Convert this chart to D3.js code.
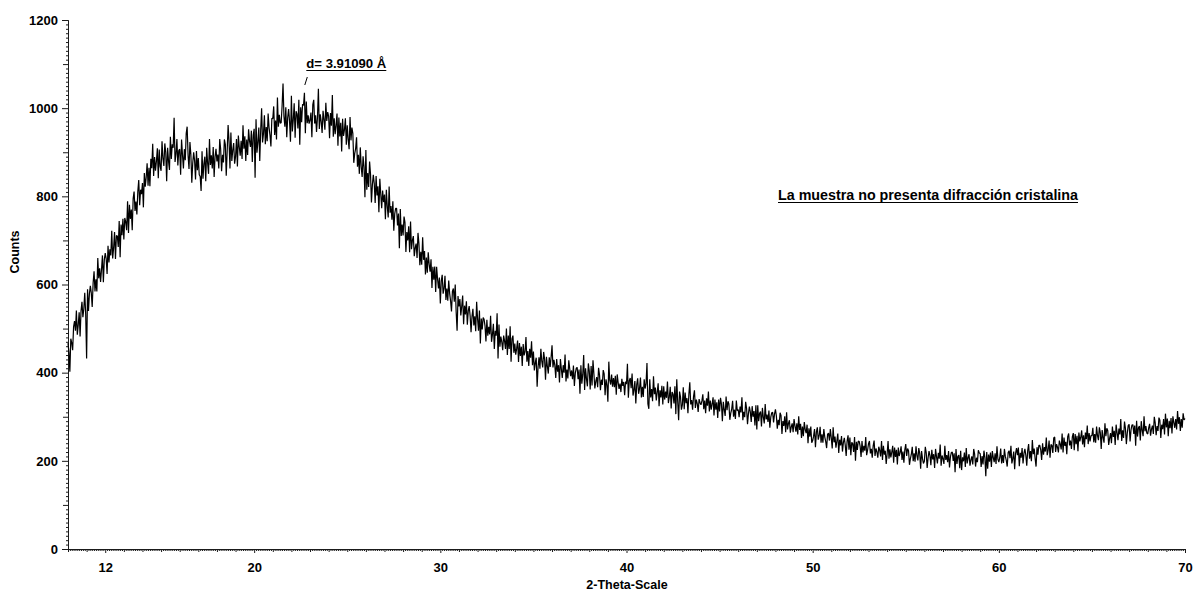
<!DOCTYPE html>
<html>
<head>
<meta charset="utf-8">
<script src="https://cdn.jsdelivr.net/npm/d3@7"></script>
<style>
  html, body { margin: 0; padding: 0; background: #ffffff; }
  svg { display: block; }
  text { font-family: "Liberation Sans", Arial, sans-serif; }
</style>
</head>
<body>
<svg id="chart" width="1193" height="592"></svg>
<script>
// Step scan: 2-theta start and step (degrees)
const scanStart = 10;
const scanStep = 0.05;

// Intensity (counts) per step, one row per degree, 10.00° … 70.00°
const counts = [
  467, 446, 402, 477, 468, 451, 504, 517, 495, 541, 486, 508, 537, 482, 540, 561, 526, 545, 581, 533,
  432, 589, 540, 579, 597, 581, 549, 604, 630, 584, 612, 584, 660, 614, 637, 606, 634, 666, 605, 656,
  671, 659, 624, 688, 650, 680, 666, 722, 659, 683, 719, 658, 711, 710, 685, 744, 662, 736, 712, 749,
  702, 751, 742, 723, 789, 717, 781, 749, 770, 723, 795, 811, 767, 788, 759, 811, 837, 780, 815, 805,
  830, 775, 853, 822, 843, 875, 824, 865, 823, 885, 864, 919, 846, 889, 858, 880, 909, 841, 906, 868,
  858, 925, 886, 869, 920, 900, 834, 910, 880, 860, 935, 885, 918, 910, 978, 878, 896, 930, 870, 904,
  907, 849, 929, 894, 863, 907, 882, 943, 958, 893, 862, 923, 895, 831, 875, 900, 881, 838, 903, 859,
  887, 849, 845, 812, 902, 840, 874, 890, 834, 910, 875, 851, 930, 871, 893, 863, 912, 844, 890, 908,
  879, 895, 863, 930, 907, 857, 894, 877, 929, 918, 847, 902, 962, 925, 863, 945, 880, 905, 921, 874,
  890, 930, 868, 938, 912, 892, 926, 885, 961, 908, 936, 880, 929, 894, 952, 926, 912, 949, 878, 939,
  953, 842, 975, 899, 923, 956, 880, 949, 1000, 922, 942, 984, 918, 957, 925, 988, 956, 939, 913, 977,
  976, 1004, 939, 972, 929, 1024, 958, 985, 966, 967, 1005, 1056, 981, 958, 1002, 934, 978, 998, 971, 924,
  1028, 947, 973, 1011, 933, 993, 987, 954, 1019, 917, 1002, 968, 1009, 1006, 1035, 943, 1015, 966, 984, 965,
  973, 990, 934, 1008, 1019, 965, 984, 946, 979, 1044, 953, 986, 970, 944, 994, 974, 951, 1012, 971, 991,
  982, 932, 989, 960, 1030, 935, 977, 941, 961, 988, 915, 979, 936, 967, 902, 976, 937, 951, 977, 917,
  961, 929, 907, 980, 927, 956, 943, 876, 897, 908, 934, 867, 894, 851, 911, 867, 844, 891, 867, 798,
  905, 815, 853, 821, 879, 850, 786, 826, 849, 829, 785, 846, 802, 823, 764, 840, 805, 773, 813, 787,
  804, 748, 815, 777, 752, 822, 763, 778, 747, 789, 722, 760, 773, 773, 734, 761, 682, 771, 710, 736,
  711, 754, 741, 674, 719, 700, 732, 673, 743, 680, 700, 710, 664, 683, 693, 660, 717, 693, 644, 674,
  645, 707, 656, 676, 623, 661, 627, 673, 646, 629, 657, 592, 640, 611, 641, 583, 640, 613, 591, 616,
  557, 608, 622, 579, 591, 620, 565, 591, 563, 609, 580, 563, 539, 585, 591, 561, 600, 538, 495, 574,
  550, 567, 530, 551, 575, 510, 552, 532, 562, 509, 540, 551, 529, 492, 527, 545, 507, 528, 494, 561,
  522, 495, 541, 466, 523, 498, 525, 521, 506, 471, 520, 484, 504, 487, 529, 470, 487, 511, 454, 495,
  484, 535, 432, 509, 459, 482, 470, 451, 484, 472, 454, 500, 440, 484, 454, 505, 425, 477, 484, 445,
  466, 441, 455, 473, 424, 467, 438, 459, 415, 465, 439, 448, 481, 425, 449, 415, 454, 434, 471, 417,
  448, 405, 422, 434, 368, 413, 435, 409, 454, 426, 412, 447, 431, 384, 436, 414, 398, 435, 413, 435,
  462, 412, 429, 417, 388, 431, 402, 417, 378, 431, 409, 388, 417, 400, 441, 380, 407, 387, 428, 409,
  392, 405, 385, 416, 370, 399, 410, 412, 385, 407, 352, 417, 375, 396, 440, 361, 410, 386, 369, 421,
  404, 362, 415, 371, 428, 397, 364, 380, 390, 367, 411, 395, 360, 384, 372, 406, 397, 349, 385, 372,
  334, 425, 383, 373, 396, 368, 388, 367, 393, 350, 396, 378, 363, 375, 356, 386, 370, 379, 349, 380,
  374, 420, 343, 382, 388, 365, 398, 348, 361, 381, 330, 373, 387, 352, 364, 389, 344, 368, 345, 385,
  364, 375, 422, 329, 318, 385, 344, 363, 335, 392, 351, 366, 337, 356, 376, 324, 360, 344, 370, 328,
  369, 339, 357, 343, 380, 331, 345, 368, 319, 356, 351, 330, 369, 306, 385, 335, 292, 357, 345, 316,
  327, 367, 317, 355, 331, 342, 308, 351, 378, 328, 338, 316, 346, 360, 320, 339, 330, 311, 340, 332,
  327, 336, 351, 317, 337, 308, 342, 325, 357, 312, 337, 316, 329, 344, 303, 339, 316, 333, 297, 339,
  312, 343, 329, 290, 334, 316, 302, 346, 315, 335, 329, 293, 308, 317, 336, 300, 316, 295, 337, 314,
  316, 299, 323, 310, 344, 292, 311, 299, 334, 319, 283, 307, 323, 311, 288, 324, 300, 313, 280, 326,
  271, 326, 290, 308, 312, 278, 320, 299, 285, 329, 294, 305, 288, 314, 275, 299, 309, 310, 287, 306,
  317, 302, 273, 293, 281, 309, 303, 261, 290, 279, 301, 265, 310, 271, 285, 292, 264, 277, 285, 265,
  295, 279, 266, 285, 260, 301, 270, 284, 252, 278, 256, 288, 271, 263, 282, 240, 274, 255, 278, 241,
  246, 256, 272, 231, 265, 276, 248, 257, 277, 241, 260, 241, 272, 254, 244, 229, 260, 263, 246, 272,
  252, 228, 276, 242, 255, 230, 245, 262, 218, 248, 235, 256, 221, 242, 252, 236, 211, 245, 258, 225,
  253, 213, 242, 239, 220, 254, 200, 243, 225, 245, 244, 233, 209, 245, 219, 234, 223, 254, 213, 224,
  239, 245, 217, 227, 207, 234, 246, 211, 228, 220, 207, 232, 224, 210, 245, 202, 234, 214, 223, 193,
  216, 245, 205, 226, 208, 220, 234, 196, 230, 209, 225, 192, 230, 211, 219, 233, 202, 221, 196, 225,
  238, 211, 228, 223, 191, 205, 215, 232, 199, 217, 198, 233, 212, 201, 229, 217, 182, 222, 205, 194,
  199, 232, 218, 184, 207, 222, 212, 190, 225, 203, 215, 184, 227, 210, 194, 218, 205, 237, 189, 212,
  205, 193, 234, 202, 213, 197, 222, 185, 209, 219, 220, 200, 217, 174, 227, 193, 210, 213, 183, 223,
  179, 208, 199, 219, 186, 229, 194, 207, 215, 189, 202, 210, 192, 227, 215, 187, 207, 197, 224, 218,
  216, 186, 211, 192, 223, 208, 165, 220, 182, 214, 198, 219, 186, 222, 208, 197, 217, 193, 233, 204,
  197, 207, 228, 194, 213, 195, 227, 210, 201, 187, 219, 223, 206, 234, 194, 205, 221, 181, 217, 229,
  213, 230, 188, 218, 207, 229, 194, 217, 227, 213, 189, 223, 238, 205, 222, 199, 247, 215, 228, 205,
  187, 231, 214, 235, 235, 225, 202, 240, 214, 231, 221, 253, 213, 225, 246, 207, 237, 235, 218, 252,
  254, 220, 238, 231, 219, 246, 238, 226, 262, 219, 253, 234, 243, 215, 255, 262, 235, 246, 227, 255,
  263, 224, 261, 238, 257, 222, 264, 244, 253, 269, 237, 258, 231, 264, 249, 280, 238, 263, 244, 257,
  257, 275, 242, 261, 241, 278, 257, 247, 276, 264, 227, 270, 253, 241, 285, 256, 274, 269, 236, 251,
  263, 240, 278, 254, 268, 236, 282, 264, 247, 273, 260, 295, 245, 269, 252, 289, 274, 238, 263, 280,
  283, 244, 270, 281, 282, 261, 280, 234, 291, 255, 275, 279, 246, 290, 269, 256, 301, 267, 279, 263,
  261, 275, 284, 257, 272, 280, 261, 300, 286, 258, 279, 268, 298, 292, 252, 282, 272, 295, 260, 307,
  276, 296, 256, 291, 274, 297, 262, 301, 287, 275, 295, 271, 313, 284, 299, 268, 295, 275, 308, 293,
  296
];

// Axis ticks
const xTickLabels = [12, 20, 30, 40, 50, 60, 70];
const yTickLabels = [0, 200, 400, 600, 800, 1000, 1200];

// Peak annotation and remark
const peakAngle = 22.72;
const peakLabel = "d= 3.91090 Å";
const remark = "La muestra no presenta difracción cristalina";

const svg = d3.select("#chart");
const x = d3.scaleLinear().domain([10, 70]).range([68, 1185]);
const y = d3.scaleLinear().domain([0, 1200]).range([549, 20]);

const data = counts.map((c, i) => ({ t: scanStart + i * scanStep, c }));

// Minor ticks
const yMinor = d3.range(0, 1201, 10).filter(v => v % 100 !== 0);
const yMid = d3.range(100, 1201, 200);
const xMinor = d3.range(100, 701, 1).map(v => v / 10).filter(v => Math.abs(v - Math.round(v)) > 1e-6);
const xMid = d3.range(10, 71, 1).filter(v => !xTickLabels.includes(v));

const axisColor = "#1a1a1a";

function styleAxis(g) {
  g.select(".domain").attr("stroke", axisColor).attr("stroke-width", 1);
  g.selectAll(".tick line").attr("stroke", axisColor).attr("stroke-width", 1);
  g.selectAll(".tick text")
    .attr("fill", "#000")
    .attr("font-size", 13)
    .attr("font-weight", "bold")
    .attr("font-family", "'Liberation Sans', Arial, sans-serif");
}

// Y axis
svg.append("g").attr("transform", "translate(68,0)")
  .call(d3.axisLeft(y).tickValues(yMinor).tickSize(2).tickSizeOuter(0).tickFormat(""))
  .call(styleAxis);
svg.append("g").attr("transform", "translate(68,0)")
  .call(d3.axisLeft(y).tickValues(yMid).tickSize(5).tickSizeOuter(0).tickFormat(""))
  .call(styleAxis);
svg.append("g").attr("transform", "translate(68,0)")
  .call(d3.axisLeft(y).tickValues(yTickLabels).tickSize(6).tickPadding(4).tickSizeOuter(0).tickFormat(d3.format("d")))
  .call(styleAxis);

// X axis
svg.append("g").attr("transform", "translate(0,549)")
  .call(d3.axisBottom(x).tickValues(xMinor).tickSize(2).tickSizeOuter(0).tickFormat(""))
  .call(styleAxis);
svg.append("g").attr("transform", "translate(0,549)")
  .call(d3.axisBottom(x).tickValues(xMid).tickSize(3).tickSizeOuter(0).tickFormat(""))
  .call(styleAxis);
svg.append("g").attr("transform", "translate(0,549)")
  .call(d3.axisBottom(x).tickValues(xTickLabels).tickSize(4).tickPadding(10).tickSizeOuter(0).tickFormat(d3.format("d")))
  .call(styleAxis);

// Diffraction trace
const line = d3.line().x(d => x(d.t)).y(d => y(d.c));
svg.append("path")
  .datum(data)
  .attr("fill", "none")
  .attr("stroke", "#000")
  .attr("stroke-width", 1.2)
  .attr("stroke-linejoin", "bevel")
  .attr("d", line);

// Axis titles
svg.append("text")
  .attr("transform", "translate(19,252) rotate(-90)")
  .attr("text-anchor", "middle")
  .attr("font-size", 12.5).attr("font-weight", "bold")
  .text("Counts");
svg.append("text")
  .attr("x", 627).attr("y", 589)
  .attr("text-anchor", "middle")
  .attr("font-size", 12.5).attr("font-weight", "bold")
  .text("2-Theta-Scale");

// Peak d-spacing label with leader
const px = x(peakAngle);
svg.append("line")
  .attr("x1", px).attr("y1", 85).attr("x2", px + 2.5).attr("y2", 77)
  .attr("stroke", "#000").attr("stroke-width", 1);
svg.append("text")
  .attr("x", px + 1.5).attr("y", 68)
  .attr("font-size", 13).attr("font-weight", "bold")
  .attr("textLength", 80).attr("lengthAdjust", "spacingAndGlyphs")
  .text(peakLabel);
svg.append("line")
  .attr("x1", px + 1.5).attr("x2", px + 81.5).attr("y1", 70.5).attr("y2", 70.5)
  .attr("stroke", "#000").attr("stroke-width", 1);

// Remark
svg.append("text")
  .attr("x", 778).attr("y", 200)
  .attr("font-size", 14).attr("font-weight", "bold")
  .attr("textLength", 300).attr("lengthAdjust", "spacingAndGlyphs")
  .text(remark);
svg.append("line")
  .attr("x1", 778).attr("x2", 1078).attr("y1", 202.5).attr("y2", 202.5)
  .attr("stroke", "#000").attr("stroke-width", 1);
</script>
</body>
</html>
